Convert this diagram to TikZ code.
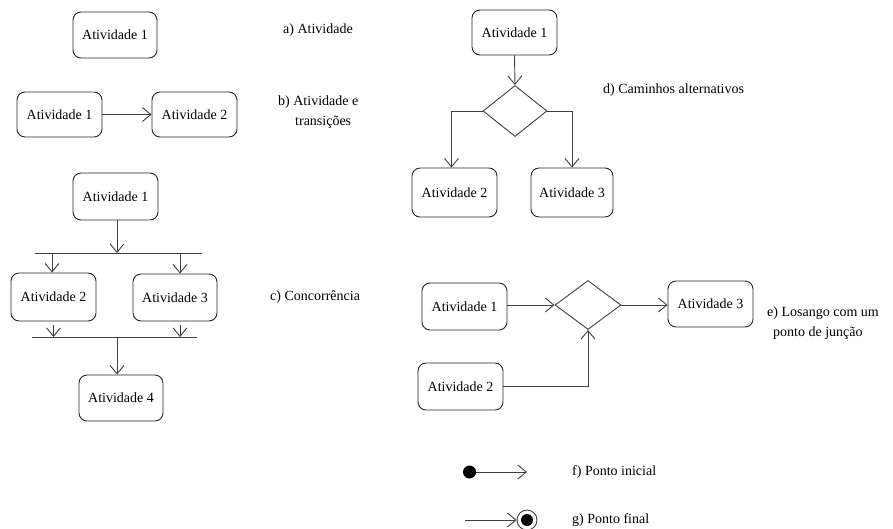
\documentclass[tikz,border=0pt]{standalone}
\usepackage{fontspec}
\setmainfont{Liberation Serif}
\usetikzlibrary{shapes.geometric,arrows.meta}

\tikzset{
  act/.style={draw=black!85, line width=0.9pt, rounded corners=8pt,
    minimum width=85pt, minimum height=46pt, inner sep=0pt,
    font=\fontsize{14}{16}\selectfont},
  choice/.style={diamond, draw=black!75, line width=0.9pt, inner sep=0pt},
  arr/.style={draw=black!75, line width=0.9pt, -{Straight Barb[length=8.5pt,width=14pt]}},
  syncbar/.style={draw=black!75, line width=0.9pt},
  caption/.style={anchor=west, inner sep=0pt, font=\fontsize{14}{16}\selectfont}
}

\begin{document}
\begin{tikzpicture}[x=1pt,y=-1pt]
\useasboundingbox[fill=white] (0,0) rectangle (893,528);

% a) single activity
\node[act, minimum width=84pt] (a1) at (115,35) {Atividade 1};
\node[caption] (la) at (283,30) {a) Atividade};

% b) activity and transition
\node[act, minimum height=45pt] (b1) at (59.5,114.5) {Atividade 1};
\node[act, minimum height=45pt] (b2) at (194.5,114.5) {Atividade 2};
\draw[arr] (b1.east) -- (b2.west);
\node[caption] (lb1) at (278,102) {b) Atividade e};
\node[caption] (lb2) at (295,122) {transições};

% c) concurrency: fork and join bars
\node[act, minimum height=47pt] (c1) at (115.5,196.5) {Atividade 1};
\node[act, minimum height=48pt] (c2) at (53.5,297) {Atividade 2};
\node[act, minimum width=84pt, minimum height=47pt] (c3) at (175,297.5) {Atividade 3};
\node[act, minimum width=84pt] (c4) at (121,398) {Atividade 4};
\coordinate (forkL) at (35,253);
\coordinate (forkR) at (202,253);
\coordinate (joinL) at (32,337);
\coordinate (joinR) at (197,337);
\draw[syncbar] (forkL) -- (forkR);
\draw[syncbar] (joinL) -- (joinR);
\draw[arr] ([xshift=1.5pt]c1.south) -- ([xshift=1.5pt]c1.south |- forkL);
\draw[arr] ([xshift=-1.5pt]c2.north |- forkL) -- ([xshift=-1.5pt]c2.north);
\draw[arr] ([xshift=5pt]c3.north |- forkL) -- ([xshift=5pt]c3.north);
\draw[arr] ([yshift=-4pt]c2.south) -- (c2.south |- joinL);
\draw[arr] ([xshift=5pt,yshift=-4pt]c3.south) -- ([xshift=5pt]c3.south |- joinL);
\draw[arr] ([xshift=-4pt]c4.north |- joinL) -- ([xshift=-4pt]c4.north);
\node[caption] (lc) at (270,297) {c) Concorrência};

% d) alternative paths
\node[act, minimum height=45pt] (d1) at (514.5,32.5) {Atividade 1};
\node[choice, minimum width=64pt, minimum height=51pt] (dd) at (515,111) {};
\node[act, minimum height=49pt] (d2) at (454.5,192.5) {Atividade 2};
\node[act, minimum width=82pt, minimum height=49pt] (d3) at (572,192.5) {Atividade 3};
\draw[arr] (d1.south) -- (dd.north);
\draw[arr] (dd.west) -| ([xshift=-3pt]d2.north);
\draw[arr] (dd.east) -| (d3.north);
\node[caption] (ld) at (603,90) {d) Caminhos alternativos};

% e) diamond used as a merge point
\node[act, minimum height=47pt] (e1) at (464.5,306.5) {Atividade 1};
\node[act, minimum height=47pt] (e2) at (460.5,386.5) {Atividade 2};
\node[act] (e3) at (710.5,304) {Atividade 3};
\node[choice, minimum width=66pt, minimum height=49pt] (ed) at (588,305) {};
\draw[arr] (e1.east |- ed.west) -- (ed.west);
\draw[arr] (ed.east) -- (e3.west |- ed.east);
\draw[arr] (e2.east) -| (ed.south);
\node[caption] (le1) at (767,313) {e) Losango com um};
\node[caption] (le2) at (773,333) {ponto de junção};

% f) initial state
\node[circle, fill=black, inner sep=0pt, minimum size=13pt] (fs) at (469.5,472) {};
\coordinate (fe) at (527,472);
\draw[arr] (fs) -- (fe);
\node[caption] (lf) at (572,472) {f) Ponto inicial};

% g) final state
\coordinate (gs) at (465,520);
\node[circle, draw=black!75, line width=0.9pt, inner sep=0pt, minimum size=20pt] (gf) at (527,520) {};
\node[circle, fill=black, inner sep=0pt, minimum size=12pt] (gc) at (527,520) {};
\draw[arr] (gs) -- (gf.west);
\node[caption] (lg) at (572,520) {g) Ponto final};
\end{tikzpicture}
\end{document}
